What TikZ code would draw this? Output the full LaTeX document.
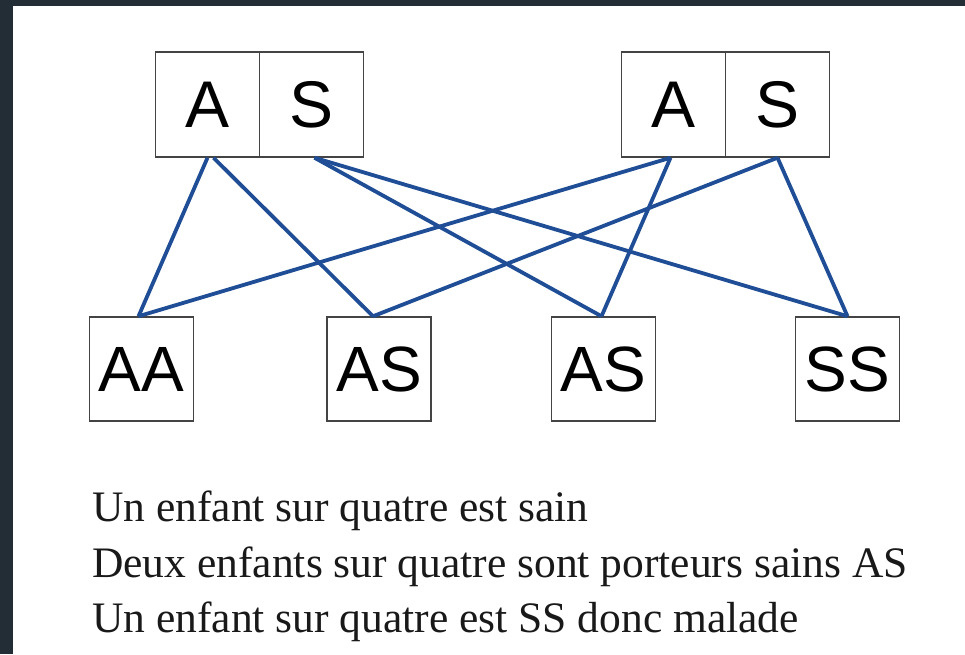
\documentclass[tikz,border=0pt]{standalone}
\usepackage{fontspec}
\setmainfont{Liberation Serif}
\newfontfamily\boxfont{Liberation Sans}
\definecolor{frame}{HTML}{232D35}
\definecolor{linkblue}{HTML}{1F4E96}
\definecolor{boxgrey}{HTML}{444444}
\begin{document}
\begin{tikzpicture}[x=1pt,y=-1pt,
  allele/.style={draw=boxgrey,line width=1.5pt,fill=white,minimum width=104pt,minimum height=105pt,inner sep=0pt,font=\boxfont\fontsize{66}{66}\selectfont,text=black},
  child/.style={draw=boxgrey,line width=1.5pt,fill=white,minimum width=104pt,minimum height=104pt,inner sep=0pt,font=\boxfont\fontsize{64}{64}\selectfont,text=black},
  link/.style={draw=linkblue,line width=3.8pt},
  caption/.style={anchor=base west,inner sep=0pt,font=\fontsize{43.5}{43.5}\selectfont,text=black!90}]
\useasboundingbox (0,0) rectangle (965,654);
\fill[frame] (0,0) rectangle (965,654);
\fill[white] (13,6) rectangle (965,654);
% parents
\node[allele] (A1) at (207.5,104.5) {A};
\node[allele] (S1) at (311.5,104.5) {S};
\node[allele] (A2) at (673.5,104.5) {A};
\node[allele] (S2) at (777.5,104.5) {S};
% children
\node[child] (AA) at (141.5,369) {AA};
\node[child] (AS1) at (379,369) {AS};
\node[child] (AS2) at (603.5,369) {AS};
\node[child] (SS) at (847.5,369) {SS};
% links
\draw[link] ([xshift=0pt]A1.south) -- ([xshift=-3pt]AA.north);
\draw[link] ([xshift=6pt]A1.south) -- ([xshift=-6pt]AS1.north);
\draw[link] ([xshift=3pt]S1.south) -- ([xshift=-2pt]AS2.north);
\draw[link] ([xshift=3pt]S1.south) -- (SS.north);
\draw[link] ([xshift=-3pt]A2.south) -- ([xshift=-3pt]AA.north);
\draw[link] ([xshift=-3pt]A2.south) -- ([xshift=-2pt]AS2.north);
\draw[link] (S2.south) -- ([xshift=-6pt]AS1.north);
\draw[link] (S2.south) -- (SS.north);
% captions
\node[caption] (c1) at (92,521) {Un enfant sur quatre est sain};
\node[caption] (c2) at (92,577) {Deux enfants sur quatre sont porteurs sains AS};
\node[caption] (c3) at (92,632) {Un enfant sur quatre est SS donc malade};
\end{tikzpicture}
\end{document}
